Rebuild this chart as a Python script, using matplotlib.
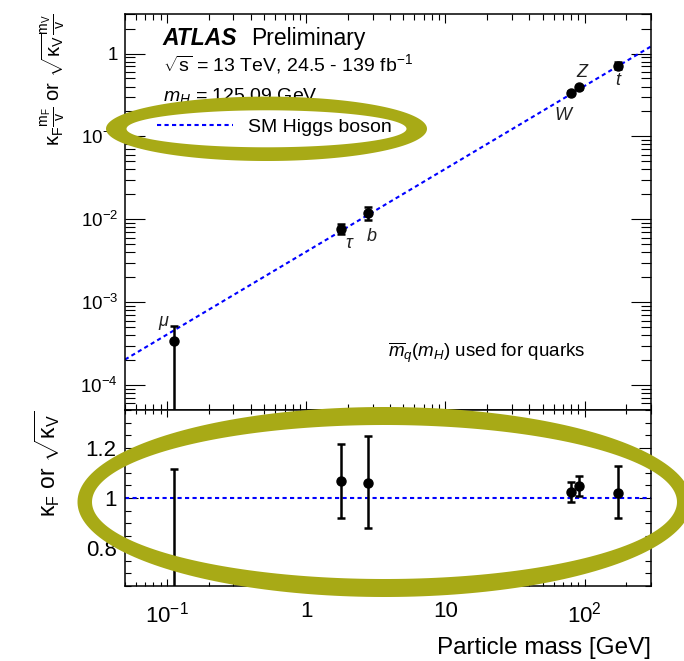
import numpy as np
import matplotlib.pyplot as plt
from matplotlib.path import Path
from matplotlib.patches import PathPatch
from matplotlib.ticker import LogLocator, MultipleLocator, FixedLocator, FixedFormatter, NullFormatter

plt.rcParams['font.family'] = ['Liberation Sans', 'DejaVu Sans']
plt.rcParams['mathtext.fontset'] = 'custom'
plt.rcParams['mathtext.rm'] = 'Liberation Sans'
plt.rcParams['mathtext.it'] = 'Liberation Sans:italic'
plt.rcParams['mathtext.bf'] = 'Liberation Sans:bold'
plt.rcParams['mathtext.sf'] = 'Liberation Sans'

# data
particles = ['μ', 'τ', 'b', 'W', 'Z', 't']
mass = [0.113, 1.777, 2.76, 80.4, 91.19, 172.5]
coupling = [3.4e-4, 7.7e-3, 1.19e-2, 0.338, 0.392, 0.716]
coupling_lo = [1e-6, 6.63e-3, 0.99e-2, 0.325, 0.377, 0.646]
coupling_hi = [5.15e-4, 8.78e-3, 1.40e-2, 0.351, 0.407, 0.793]
kappa = [0.74, 1.069, 1.059, 1.024, 1.047, 1.020]
kappa_lo = [0.30, 0.919, 0.879, 0.984, 1.007, 0.920]
kappa_hi = [1.116, 1.216, 1.246, 1.063, 1.086, 1.129]
vev = 246.22
sm_mass = [0.05, 300]

label_offsets = [(-11, 20), (8, -15), (4, -23), (-8, -23), (3, 15), (0, -15)]

W, H = 684, 661
fig = plt.figure(figsize=(W / 100, H / 100), dpi=100)

def frac(x0, y0, x1, y1):
    return [x0 / W, 1 - y1 / H, (x1 - x0) / W, (y1 - y0) / H]

ax1 = fig.add_axes(frac(125, 14, 651, 410))
ax2 = fig.add_axes(frac(125, 410, 651, 586))

blue_dash = dict(color='#0000ff', lw=1.5, dashes=(2, 1.6))
err_style = dict(fmt='o', color='black', ms=6.5, elinewidth=1.8, capsize=2.8, capthick=1.8, zorder=5)

sm_y = np.array(sm_mass) / vev
ax1.plot(sm_mass, sm_y, label='SM Higgs boson', **blue_dash)
c = np.array(coupling)
ax1.errorbar(mass, c, yerr=[c - np.array(coupling_lo), np.array(coupling_hi) - c], **err_style)
for m, v, name, off in zip(mass, coupling, particles, label_offsets):
    ax1.annotate(name, (m, v), xytext=off, textcoords='offset pixels', ha='center', va='center',
                 fontsize=13, fontstyle='italic', color='#222222')

ax1.set_xscale('log')
ax1.set_yscale('log')
ax1.set_xlim(0.05, 300)
ax1.set_ylim(5e-5, 3)

ax1.yaxis.set_major_locator(FixedLocator([1e-4, 1e-3, 1e-2, 1e-1, 1]))
ax1.yaxis.set_major_formatter(FixedFormatter([r'$10^{-4}$', r'$10^{-3}$', r'$10^{-2}$', r'$10^{-1}$', '1']))
ax1.yaxis.set_minor_locator(LogLocator(base=10, subs=np.arange(2, 10), numticks=20))
ax1.yaxis.set_minor_formatter(NullFormatter())

k = np.array(kappa)
ax2.axhline(1.0, **blue_dash)
ax2.errorbar(mass, k, yerr=[k - np.array(kappa_lo), np.array(kappa_hi) - k], **err_style)
ax2.set_xscale('log')
ax2.set_xlim(0.05, 300)
ax2.set_ylim(0.65, 1.35)
ax2.yaxis.set_major_locator(FixedLocator([0.8, 1.0, 1.2]))
ax2.yaxis.set_major_formatter(FixedFormatter(['0.8', '1', '1.2']))
ax2.yaxis.set_minor_locator(MultipleLocator(0.05))

for ax in (ax1, ax2):
    ax.xaxis.set_major_locator(FixedLocator([0.1, 1, 10, 100]))
    ax.xaxis.set_minor_locator(LogLocator(base=10, subs=np.arange(2, 10), numticks=20))
    ax.xaxis.set_minor_formatter(NullFormatter())
    ax.tick_params(which='both', direction='in', top=True, right=True, width=0.8, color='black')
    for s in ax.spines.values():
        s.set_linewidth(1.1)

ax1.tick_params(axis='y', which='major', length=14.5, labelsize=13.5, pad=5)
ax1.tick_params(axis='y', which='minor', length=7.2)
ax1.tick_params(axis='x', which='major', length=6.5, labelbottom=False)
ax1.tick_params(axis='x', which='minor', length=4.3)

ax2.xaxis.set_major_formatter(FixedFormatter([r'$10^{-1}$', '1', '10', r'$10^{2}$']))
ax2.tick_params(axis='y', which='major', length=9, labelsize=16, pad=6)
ax2.tick_params(axis='y', which='minor', length=4.5)
ax2.tick_params(axis='x', which='major', length=5, labelsize=16, pad=11)
ax2.tick_params(axis='x', which='minor', length=3)

ax1.text(0.072, 0.9217, 'ATLAS', transform=ax1.transAxes, fontsize=16.5,
         fontweight='bold', fontstyle='italic', va='baseline')
ax1.text(0.239, 0.9217, 'Preliminary', transform=ax1.transAxes, fontsize=16.5, va='baseline')
ax1.text(0.072, 0.856, r'$\sqrt{\mathrm{s}}$ = 13 TeV, 24.5 - 139 fb$^{-1}$', transform=ax1.transAxes,
         fontsize=14, va='baseline')
ax1.text(0.072, 0.78, r'$m_{H}$ = 125.09 GeV', transform=ax1.transAxes, fontsize=14, va='baseline')
ax1.text(0.5, 0.133, r'$\overline{m}_{q}(m_{H})$ used for quarks', transform=ax1.transAxes,
         fontsize=13.5, va='baseline')

ax1.legend(loc='center left', bbox_to_anchor=(0.0608, 0.7146), frameon=False, fontsize=14,
           handlelength=3.9, handletextpad=0.8, borderpad=0, borderaxespad=0)

fig.text(53 / W, 1 - 13 / H,
         r'$\mathrm{κ}_{\mathrm{F}}\frac{\mathrm{m}_{\mathrm{F}}}{\mathrm{v}}$ or $\sqrt{\mathrm{κ}_{\mathrm{V}}}\frac{\mathrm{m}_{\mathrm{V}}}{\mathrm{v}}$',
         rotation=90, ha='center', va='top', fontsize=14.5)
fig.text(47 / W, 1 - 411 / H, r'$\mathrm{κ}_{\mathrm{F}}$ or $\sqrt{\mathrm{κ}_{\mathrm{V}}}$',
         rotation=90, ha='center', va='top', fontsize=16.5)
fig.text(651 / W, 1 - 648 / H, 'Particle mass [GeV]', ha='right', va='center', fontsize=17.5)

# olive highlight rings drawn over the figure (pixel geometry, y from top)
def ring(cx, cy, rxo, ryo, rxi, ryi):
    t = np.linspace(0, 2 * np.pi, 240)
    outer = np.column_stack([cx + rxo * np.cos(t), cy + ryo * np.sin(t)])
    inner = np.column_stack([cx + rxi * np.cos(t[::-1]), cy + ryi * np.sin(t[::-1])])
    verts = np.vstack([outer, inner])
    verts[:, 0] /= W
    verts[:, 1] = 1 - verts[:, 1] / H
    codes = ([Path.MOVETO] + [Path.LINETO] * (len(t) - 2) + [Path.CLOSEPOLY]) * 2
    patch = PathPatch(Path(verts, codes), facecolor='#a8aa16', edgecolor='none',
                      transform=fig.transFigure, zorder=10)
    fig.add_artist(patch)

ring(266.5, 128.8, 160.5, 32.2, 140, 18.5)
ring(384.5, 502, 307, 95, 292.5, 77)

fig.savefig('out.png', dpi=100)
